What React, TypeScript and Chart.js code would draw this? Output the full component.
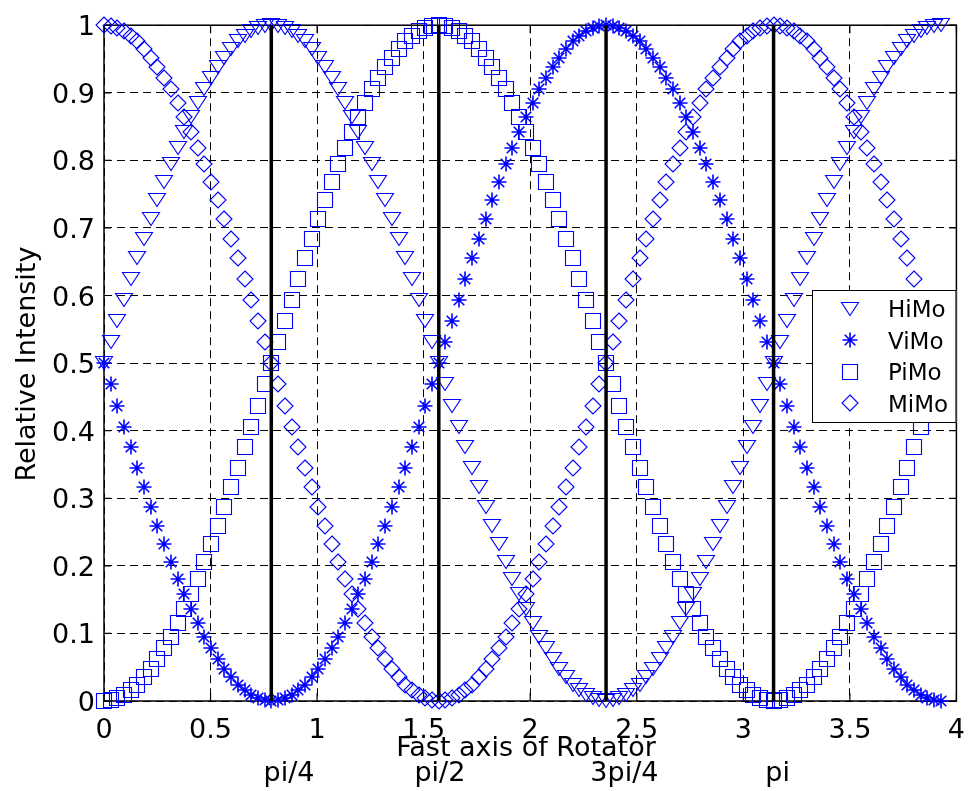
import React, { useEffect, useRef } from 'react';
import { Chart, registerables } from 'chart.js';

Chart.register(...registerables);

// Rotator fast-axis angle (rad)
const X_VALUES = [
  0, 0.031, 0.063, 0.094, 0.126, 0.157, 0.188, 0.22, 0.251, 0.283,
  0.314, 0.346, 0.377, 0.408, 0.44, 0.471, 0.503, 0.534, 0.565, 0.597,
  0.628, 0.66, 0.691, 0.723, 0.754, 0.785, 0.817, 0.848, 0.88, 0.911,
  0.942, 0.974, 1.005, 1.037, 1.068, 1.1, 1.131, 1.162, 1.194, 1.225,
  1.257, 1.288, 1.319, 1.351, 1.382, 1.414, 1.445, 1.477, 1.508, 1.539,
  1.571, 1.602, 1.634, 1.665, 1.696, 1.728, 1.759, 1.791, 1.822, 1.854,
  1.885, 1.916, 1.948, 1.979, 2.011, 2.042, 2.073, 2.105, 2.136, 2.168,
  2.199, 2.231, 2.262, 2.293, 2.325, 2.356, 2.388, 2.419, 2.45, 2.482,
  2.513, 2.545, 2.576, 2.608, 2.639, 2.67, 2.702, 2.733, 2.765, 2.796,
  2.827, 2.859, 2.89, 2.922, 2.953, 2.985, 3.016, 3.047, 3.079, 3.11,
  3.142, 3.173, 3.204, 3.236, 3.267, 3.299, 3.33, 3.362, 3.393, 3.424,
  3.456, 3.487, 3.519, 3.55, 3.581, 3.613, 3.644, 3.676, 3.707, 3.738,
  3.77, 3.801, 3.833, 3.864, 3.896, 3.927,
];

const HIMO = [
  0.5, 0.531, 0.563, 0.594, 0.624, 0.655, 0.684, 0.713, 0.741, 0.768, 0.794, 0.819, 0.842,
  0.864, 0.885, 0.905, 0.922, 0.938, 0.952, 0.965, 0.976, 0.984, 0.991, 0.996, 0.999, 1,
  0.999, 0.996, 0.991, 0.984, 0.976, 0.965, 0.952, 0.938, 0.922, 0.905, 0.885, 0.864, 0.842,
  0.819, 0.794, 0.768, 0.741, 0.713, 0.684, 0.655, 0.624, 0.594, 0.563, 0.531, 0.5,
  0.469, 0.437, 0.406, 0.376, 0.345, 0.316, 0.287, 0.259, 0.232, 0.206, 0.181, 0.158, 0.136,
  0.115, 0.095, 0.078, 0.062, 0.048, 0.035, 0.024, 0.016, 0.009, 0.004, 0.001, 0,
  0.001, 0.004, 0.009, 0.016, 0.024, 0.035, 0.048, 0.062, 0.078, 0.095, 0.115, 0.136, 0.158,
  0.181, 0.206, 0.232, 0.259, 0.287, 0.316, 0.345, 0.376, 0.406, 0.437, 0.469, 0.5,
  0.531, 0.563, 0.594, 0.624, 0.655, 0.684, 0.713, 0.741, 0.768, 0.794, 0.819, 0.842, 0.864,
  0.885, 0.905, 0.922, 0.938, 0.952, 0.965, 0.976, 0.984, 0.991, 0.996, 0.999, 1,
];

const VIMO = [
  0.5, 0.469, 0.437, 0.406, 0.376, 0.345, 0.316, 0.287, 0.259, 0.232, 0.206, 0.181, 0.158,
  0.136, 0.115, 0.095, 0.078, 0.062, 0.048, 0.035, 0.024, 0.016, 0.009, 0.004, 0.001, 0,
  0.001, 0.004, 0.009, 0.016, 0.024, 0.035, 0.048, 0.062, 0.078, 0.095, 0.115, 0.136, 0.158,
  0.181, 0.206, 0.232, 0.259, 0.287, 0.316, 0.345, 0.376, 0.406, 0.437, 0.469, 0.5,
  0.531, 0.563, 0.594, 0.624, 0.655, 0.684, 0.713, 0.741, 0.768, 0.794, 0.819, 0.842, 0.864,
  0.885, 0.905, 0.922, 0.938, 0.952, 0.965, 0.976, 0.984, 0.991, 0.996, 0.999, 1,
  0.999, 0.996, 0.991, 0.984, 0.976, 0.965, 0.952, 0.938, 0.922, 0.905, 0.885, 0.864, 0.842,
  0.819, 0.794, 0.768, 0.741, 0.713, 0.684, 0.655, 0.624, 0.594, 0.563, 0.531, 0.5,
  0.469, 0.437, 0.406, 0.376, 0.345, 0.316, 0.287, 0.259, 0.232, 0.206, 0.181, 0.158, 0.136,
  0.115, 0.095, 0.078, 0.062, 0.048, 0.035, 0.024, 0.016, 0.009, 0.004, 0.001, 0,
];

const PIMO = [
  0, 0.001, 0.004, 0.009, 0.016, 0.024, 0.035, 0.048, 0.062, 0.078, 0.095, 0.115, 0.136,
  0.158, 0.181, 0.206, 0.232, 0.259, 0.287, 0.316, 0.345, 0.376, 0.406, 0.437, 0.469, 0.5,
  0.531, 0.563, 0.594, 0.624, 0.655, 0.684, 0.713, 0.741, 0.768, 0.794, 0.819, 0.842, 0.864,
  0.885, 0.905, 0.922, 0.938, 0.952, 0.965, 0.976, 0.984, 0.991, 0.996, 0.999, 1,
  0.999, 0.996, 0.991, 0.984, 0.976, 0.965, 0.952, 0.938, 0.922, 0.905, 0.885, 0.864, 0.842,
  0.819, 0.794, 0.768, 0.741, 0.713, 0.684, 0.655, 0.624, 0.594, 0.563, 0.531, 0.5,
  0.469, 0.437, 0.406, 0.376, 0.345, 0.316, 0.287, 0.259, 0.232, 0.206, 0.181, 0.158, 0.136,
  0.115, 0.095, 0.078, 0.062, 0.048, 0.035, 0.024, 0.016, 0.009, 0.004, 0.001, 0,
  0.001, 0.004, 0.009, 0.016, 0.024, 0.035, 0.048, 0.062, 0.078, 0.095, 0.115, 0.136, 0.158,
  0.181, 0.206, 0.232, 0.259, 0.287, 0.316, 0.345, 0.376, 0.406, 0.437, 0.469, 0.5,
];

const MIMO = [
  1, 0.999, 0.996, 0.991, 0.984, 0.976, 0.965, 0.952, 0.938, 0.922, 0.905, 0.885, 0.864,
  0.842, 0.819, 0.794, 0.768, 0.741, 0.713, 0.684, 0.655, 0.624, 0.594, 0.563, 0.531, 0.5,
  0.469, 0.437, 0.406, 0.376, 0.345, 0.316, 0.287, 0.259, 0.232, 0.206, 0.181, 0.158, 0.136,
  0.115, 0.095, 0.078, 0.062, 0.048, 0.035, 0.024, 0.016, 0.009, 0.004, 0.001, 0,
  0.001, 0.004, 0.009, 0.016, 0.024, 0.035, 0.048, 0.062, 0.078, 0.095, 0.115, 0.136, 0.158,
  0.181, 0.206, 0.232, 0.259, 0.287, 0.316, 0.345, 0.376, 0.406, 0.437, 0.469, 0.5,
  0.531, 0.563, 0.594, 0.624, 0.655, 0.684, 0.713, 0.741, 0.768, 0.794, 0.819, 0.842, 0.864,
  0.885, 0.905, 0.922, 0.938, 0.952, 0.965, 0.976, 0.984, 0.991, 0.996, 0.999, 1,
  0.999, 0.996, 0.991, 0.984, 0.976, 0.965, 0.952, 0.938, 0.922, 0.905, 0.885, 0.864, 0.842,
  0.819, 0.794, 0.768, 0.741, 0.713, 0.684, 0.655, 0.624, 0.594, 0.563, 0.531, 0.5,
];

const SERIES_NAMES = ['HiMo', 'ViMo', 'PiMo', 'MiMo'];
const SERIES_MARKERS = ['tri', 'star', 'square', 'diamond'];

const X_TICK_LABELS = ['0', '0.5', '1', '1.5', '2', '2.5', '3', '3.5', '4'];
const Y_TICK_LABELS = ['0', '0.1', '0.2', '0.3', '0.4', '0.5', '0.6', '0.7', '0.8', '0.9', '1'];

// Vertical reference lines at multiples of pi/4 and their captions
const REF_LINES_X = [0.785, 1.571, 2.356, 3.142];
const REF_LINE_SPAN = [0, 1];
const REF_LABELS = ['pi/4', 'pi/2', '3pi/4', 'pi'];
const REF_LABEL_X = [0.868, 1.576, 2.442, 3.161];

const X_TITLE = 'Fast axis of Rotator';
const Y_TITLE = 'Relative Intensity';

const BLUE = '#0000ff';
const FONT = '"DejaVu Sans", "Liberation Sans", sans-serif';

function makeMarker(kind: string): HTMLCanvasElement {
  const c = document.createElement('canvas');
  c.width = 22;
  c.height = 22;
  const g = c.getContext('2d')!;
  g.strokeStyle = BLUE;
  g.lineWidth = 1.1;
  g.beginPath();
  if (kind === 'tri') {
    g.moveTo(2.5, 4.5);
    g.lineTo(19.5, 4.5);
    g.lineTo(11, 17.5);
    g.closePath();
  } else if (kind === 'star') {
    g.lineWidth = 1.6;
    g.moveTo(3.5, 11);
    g.lineTo(18.5, 11);
    g.moveTo(11, 3.5);
    g.lineTo(11, 18.5);
    g.moveTo(5.7, 5.7);
    g.lineTo(16.3, 16.3);
    g.moveTo(5.7, 16.3);
    g.lineTo(16.3, 5.7);
  } else if (kind === 'square') {
    g.rect(3.5, 3.5, 15, 15);
  } else {
    g.moveTo(11, 3);
    g.lineTo(19, 11);
    g.lineTo(11, 19);
    g.lineTo(3, 11);
    g.closePath();
  }
  g.stroke();
  return c;
}

export default function App() {
  const canvasRef = useRef<HTMLCanvasElement | null>(null);

  useEffect(() => {
    const canvas = canvasRef.current;
    if (!canvas) return;
    const markers = SERIES_MARKERS.map(makeMarker);
    const seriesValues = [HIMO, VIMO, PIMO, MIMO];

    const markerSets = seriesValues.map((ys, i) => ({
      label: SERIES_NAMES[i],
      data: X_VALUES.map((x, k) => ({ x, y: ys[k] })),
      showLine: false,
      pointStyle: markers[i],
      pointRadius: 8,
      pointHoverRadius: 8,
      clip: false as any,
      order: 1,
    }));

    const refSets = REF_LINES_X.map((x) => ({
      label: '',
      data: REF_LINE_SPAN.map((y) => ({ x, y })),
      showLine: true,
      borderColor: '#000',
      borderWidth: 3.5,
      pointRadius: 0,
      pointHoverRadius: 0,
      clip: false as any,
      order: 0,
    }));

    const decor = {
      id: 'matlabDecor',
      beforeDatasetsDraw(chart: any) {
        const { ctx, chartArea: a, scales } = chart;
        ctx.save();
        ctx.strokeStyle = '#000';
        ctx.lineWidth = 1.2;
        ctx.beginPath();
        scales.x.ticks.forEach((t: any) => {
          const px = scales.x.getPixelForValue(t.value);
          ctx.moveTo(px, a.bottom);
          ctx.lineTo(px, a.bottom - 8);
          ctx.moveTo(px, a.top);
          ctx.lineTo(px, a.top + 8);
        });
        scales.y.ticks.forEach((t: any) => {
          const py = scales.y.getPixelForValue(t.value);
          ctx.moveTo(a.left, py);
          ctx.lineTo(a.left + 7, py);
          ctx.moveTo(a.right, py);
          ctx.lineTo(a.right - 7, py);
        });
        ctx.stroke();
        ctx.lineWidth = 1.5;
        ctx.strokeRect(a.left, a.top, a.right - a.left, a.bottom - a.top);
        ctx.restore();
        // keep the marker strokes crisp
        ctx.imageSmoothingEnabled = false;
      },
      afterDatasetsDraw(chart: any) {
        chart.ctx.imageSmoothingEnabled = true;
      },
      afterDraw(chart: any) {
        const { ctx, chartArea: a, scales } = chart;
        ctx.save();
        ctx.fillStyle = '#000';
        ctx.font = `27px ${FONT}`;
        ctx.textBaseline = 'alphabetic';
        ctx.textAlign = 'center';

        // captions under the reference lines
        REF_LABELS.forEach((txt, i) => {
          ctx.fillText(txt, scales.x.getPixelForValue(REF_LABEL_X[i]), a.bottom + 80);
        });

        // axis titles
        ctx.fillText(X_TITLE, 526, a.bottom + 55);
        ctx.save();
        ctx.translate(35, (a.top + a.bottom) / 2 + 1);
        ctx.rotate(-Math.PI / 2);
        ctx.fillText(Y_TITLE, 0, 0);
        ctx.restore();

        // legend box inside the axes
        const lx = 812;
        const ly = 290;
        const lw = a.right - lx;
        const lh = 133;
        ctx.fillStyle = '#fff';
        ctx.fillRect(lx, ly, lw, lh);
        ctx.strokeStyle = '#000';
        ctx.lineWidth = 1;
        ctx.strokeRect(lx + 0.5, ly + 0.5, lw - 1, lh - 1);
        ctx.font = `23px ${FONT}`;
        ctx.textAlign = 'left';
        ctx.fillStyle = '#000';
        SERIES_NAMES.forEach((name, i) => {
          const cy = ly + 18.5 + i * 31.5;
          const m = markers[i];
          ctx.drawImage(m, Math.round(850 - m.width / 2), Math.round(cy - m.height / 2));
          ctx.fillText(name, 888, cy + 8.5);
        });
        ctx.restore();
      },
    };

    const tickFont = { family: FONT, size: 27 };

    const chart = new Chart(canvas, {
      type: 'scatter',
      data: { datasets: [...markerSets, ...refSets] as any },
      options: {
        animation: false,
        responsive: false,
        maintainAspectRatio: false,
        devicePixelRatio: 1,
        events: [],
        layout: { padding: { top: 20, right: 10, left: 0, bottom: 0 } },
        plugins: {
          legend: { display: false },
          tooltip: { enabled: false },
        },
        scales: {
          x: {
            type: 'linear',
            position: 'bottom',
            min: 0,
            max: 4,
            afterFit: (s: any) => {
              s.height = 90;
            },
            ticks: {
              stepSize: 0.5,
              autoSkip: false,
              maxRotation: 0,
              padding: 14,
              color: '#000',
              font: tickFont,
              callback: (_v: any, i: number) => X_TICK_LABELS[i],
            },
            grid: { color: '#000', lineWidth: 1, drawTicks: false },
            border: { display: false, dash: [8, 5] },
          },
          y: {
            type: 'linear',
            min: 0,
            max: 1,
            afterFit: (s: any) => {
              s.width = 104;
            },
            ticks: {
              stepSize: 0.1,
              autoSkip: false,
              padding: 9,
              labelOffset: 3,
              color: '#000',
              font: tickFont,
              callback: (_v: any, i: number) => Y_TICK_LABELS[i],
            },
            grid: { color: '#000', lineWidth: 1, drawTicks: false },
            border: { display: false, dash: [8, 5] },
          },
        },
      },
      plugins: [decor],
    });

    return () => chart.destroy();
  }, []);

  return (
    <div style={{ position: 'fixed', left: 0, top: 0, width: 979, height: 791, background: '#fff' }}>
      <canvas ref={canvasRef} width={979} height={791} style={{ display: 'block' }} />
    </div>
  );
}
